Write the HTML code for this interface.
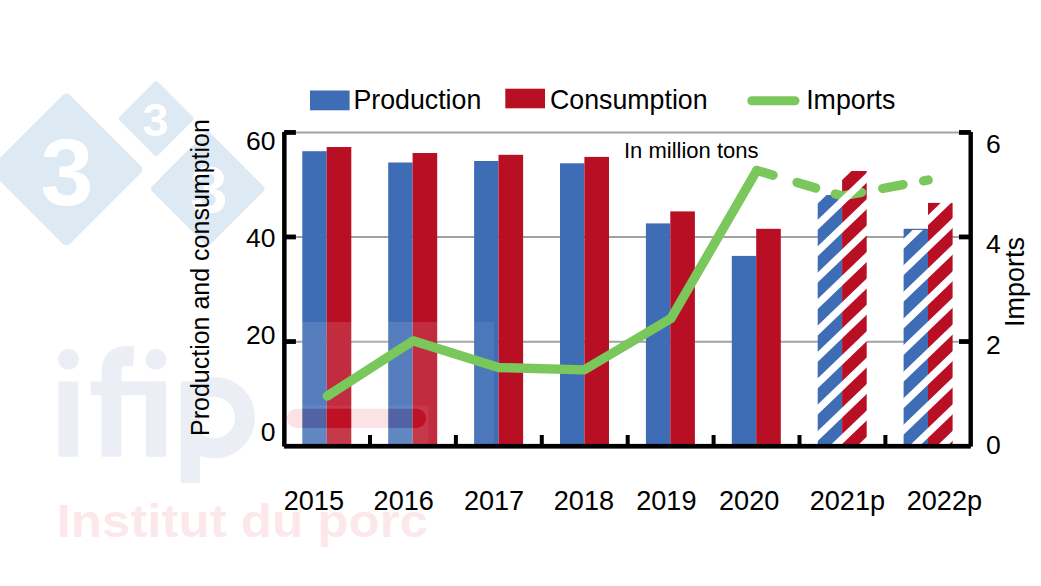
<!DOCTYPE html><html><head><meta charset="utf-8"><title>chart</title><style>html,body{margin:0;padding:0;background:#fff}body{width:1041px;height:586px;overflow:hidden}svg{display:block}text{font-family:"Liberation Sans",sans-serif;fill:#000}</style></head><body>
<svg width="1041" height="586" viewBox="0 0 1041 586">
<rect width="1041" height="586" fill="#fff"/>
<rect x="11.2" y="114.3" width="110.3" height="110.3" rx="5.0" fill="#dde9f3" transform="rotate(45 66.4 169.5)"/>
<rect x="129.0" y="91.4" width="54.4" height="54.4" rx="3.0" fill="#dde9f3" transform="rotate(45 156.2 118.6)"/>
<rect x="166.6" y="147.6" width="82.4" height="82.4" rx="4.0" fill="#dde9f3" transform="rotate(45 207.8 188.8)"/>
<text x="67" y="204.5" font-size="95" font-weight="bold" text-anchor="middle" style="fill:#fff">3</text>
<text x="155.5" y="136.4" font-size="47" font-weight="bold" text-anchor="middle" style="fill:#fff">3</text>
<text x="209" y="212.6" font-size="67" font-weight="bold" text-anchor="middle" style="fill:#fff">3</text>
<g fill="#ebeff5">
<rect x="58.4" y="381.5" width="20" height="75.3"/><circle cx="68.4" cy="359.3" r="10.5"/>
<rect x="146" y="381.5" width="20" height="75.3"/><circle cx="155.8" cy="359.3" r="10.5"/>
<rect x="90.7" y="381.5" width="75.3" height="13.8"/>
<rect x="180.7" y="381.5" width="19.4" height="101.4"/>
</g>
<path d="M111.5,456.8 L111.5,372 Q111.5,356 127,356 L133.7,356.5" fill="none" stroke="#ebeff5" stroke-width="20"/>
<clipPath id="pc"><rect x="190" y="370" width="80" height="100"/></clipPath>
<circle cx="214.3" cy="417.6" r="30.7" fill="none" stroke="#ebeff5" stroke-width="20" clip-path="url(#pc)"/>
<text x="56.5" y="536.8" font-size="46.5" font-weight="bold" textLength="371.5" lengthAdjust="spacingAndGlyphs" style="fill:#fce8ea">Institut du porc</text>
<line x1="286" y1="132.55" x2="969" y2="132.55" stroke="#a2a2a2" stroke-width="2"/>
<line x1="286" y1="237.05" x2="969" y2="237.05" stroke="#a2a2a2" stroke-width="2"/>
<line x1="286" y1="341.65" x2="969" y2="341.65" stroke="#a2a2a2" stroke-width="2"/>
<rect x="302.3" y="151.2" width="24.4" height="293.1" fill="#3f6db5"/>
<rect x="326.7" y="147.0" width="24.6" height="297.3" fill="#b90f24"/>
<rect x="388.2" y="162.5" width="24.4" height="281.8" fill="#3f6db5"/>
<rect x="412.6" y="153.0" width="24.6" height="291.3" fill="#b90f24"/>
<rect x="474.1" y="161.0" width="24.4" height="283.3" fill="#3f6db5"/>
<rect x="498.5" y="154.8" width="24.6" height="289.5" fill="#b90f24"/>
<rect x="560.0" y="163.3" width="24.4" height="281.0" fill="#3f6db5"/>
<rect x="584.4" y="156.9" width="24.6" height="287.4" fill="#b90f24"/>
<rect x="645.9" y="223.4" width="24.4" height="220.9" fill="#3f6db5"/>
<rect x="670.3" y="211.4" width="24.6" height="232.9" fill="#b90f24"/>
<rect x="731.8" y="255.9" width="24.4" height="188.4" fill="#3f6db5"/>
<rect x="756.2" y="228.8" width="24.6" height="215.5" fill="#b90f24"/>
<rect x="817.7" y="195.0" width="24.4" height="249.3" fill="#3f6db5"/>
<rect x="842.1" y="171.0" width="24.6" height="273.3" fill="#b90f24"/>
<rect x="903.6" y="229.2" width="24.4" height="215.1" fill="#3f6db5"/>
<rect x="928.0" y="202.9" width="24.6" height="241.4" fill="#b90f24"/>
<mask id="mk"><rect x="0" y="0" width="1041" height="586" fill="#fff"/><rect x="287" y="408.7" width="139" height="19.3" rx="9.6" fill="#000"/></mask>
<g mask="url(#mk)">
<rect x="300" y="322" width="137" height="124" fill="#fff" fill-opacity="0.12"/>
<rect x="437" y="322" width="57" height="124" fill="#fff" fill-opacity="0.07"/>
<rect x="282" y="405.5" width="146.5" height="41" fill="#fff" fill-opacity="0.07"/>
</g>
<rect x="287" y="408.7" width="139" height="19.3" rx="9.6" fill="#e11e2d" fill-opacity="0.13"/>
<polyline points="327.3,396.0 413.0,340.8 498.5,367.5 584.4,369.8 670.9,318.6 756.8,170.4" fill="none" stroke="#7ac75b" stroke-width="9.3" stroke-linecap="round" stroke-linejoin="round"/>
<line x1="756.8" y1="170.4" x2="842.3" y2="196.0" stroke="#7ac75b" stroke-width="9.3" stroke-linecap="round" stroke-dasharray="17 25 19.5 20.5 19 22"/>
<line x1="842.3" y1="196.0" x2="928.2" y2="180.0" stroke="#7ac75b" stroke-width="9.3" stroke-linecap="round" stroke-dasharray="19.5 21.6 20.7 20.9 19 22"/>
<clipPath id="c6"><rect x="816.7" y="194.0" width="25.4" height="251.3"/><rect x="841.1" y="170.0" width="26.6" height="275.3"/></clipPath>
<g clip-path="url(#c6)" fill="#fff">
<polygon points="816.2,62.9 869.0,12.2 869.0,22.2 816.2,72.9"/>
<polygon points="816.2,89.3 869.0,38.6 869.0,48.6 816.2,99.3"/>
<polygon points="816.2,115.7 869.0,65.0 869.0,75.0 816.2,125.7"/>
<polygon points="816.2,142.1 869.0,91.4 869.0,101.4 816.2,152.1"/>
<polygon points="816.2,168.5 869.0,117.8 869.0,127.8 816.2,178.5"/>
<polygon points="816.2,194.9 869.0,144.2 869.0,154.2 816.2,204.9"/>
<polygon points="816.2,221.3 869.0,170.6 869.0,180.6 816.2,231.3"/>
<polygon points="816.2,247.7 869.0,197.0 869.0,207.0 816.2,257.7"/>
<polygon points="816.2,274.1 869.0,223.4 869.0,233.4 816.2,284.1"/>
<polygon points="816.2,300.5 869.0,249.8 869.0,259.8 816.2,310.5"/>
<polygon points="816.2,326.9 869.0,276.2 869.0,286.2 816.2,336.9"/>
<polygon points="816.2,353.3 869.0,302.6 869.0,312.6 816.2,363.3"/>
<polygon points="816.2,379.7 869.0,329.0 869.0,339.0 816.2,389.7"/>
<polygon points="816.2,406.1 869.0,355.4 869.0,365.4 816.2,416.1"/>
<polygon points="816.2,432.5 869.0,381.8 869.0,391.8 816.2,442.5"/>
<polygon points="816.2,458.9 869.0,408.2 869.0,418.2 816.2,468.9"/>
<polygon points="816.2,485.3 869.0,434.6 869.0,444.6 816.2,495.3"/>
<polygon points="816.2,511.7 869.0,461.0 869.0,471.0 816.2,521.7"/>
<polygon points="816.2,538.1 869.0,487.4 869.0,497.4 816.2,548.1"/>
<polygon points="816.2,564.5 869.0,513.8 869.0,523.8 816.2,574.5"/>
<polygon points="816.2,590.9 869.0,540.2 869.0,550.2 816.2,600.9"/>
<polygon points="816.2,617.3 869.0,566.6 869.0,576.6 816.2,627.3"/>
</g>
<clipPath id="c7"><rect x="902.6" y="228.2" width="25.4" height="217.1"/><rect x="927.0" y="201.9" width="26.6" height="243.4"/></clipPath>
<g clip-path="url(#c7)" fill="#fff">
<polygon points="902.2,80.3 955.0,29.6 955.0,39.6 902.2,90.3"/>
<polygon points="902.2,106.9 955.0,56.2 955.0,66.2 902.2,116.9"/>
<polygon points="902.2,133.5 955.0,82.8 955.0,92.8 902.2,143.5"/>
<polygon points="902.2,160.1 955.0,109.4 955.0,119.4 902.2,170.1"/>
<polygon points="902.2,186.7 955.0,136.0 955.0,146.0 902.2,196.7"/>
<polygon points="902.2,213.3 955.0,162.6 955.0,172.6 902.2,223.3"/>
<polygon points="902.2,239.9 955.0,189.2 955.0,199.2 902.2,249.9"/>
<polygon points="902.2,266.5 955.0,215.8 955.0,225.8 902.2,276.5"/>
<polygon points="902.2,293.1 955.0,242.4 955.0,252.4 902.2,303.1"/>
<polygon points="902.2,319.7 955.0,269.0 955.0,279.0 902.2,329.7"/>
<polygon points="902.2,346.3 955.0,295.6 955.0,305.6 902.2,356.3"/>
<polygon points="902.2,372.9 955.0,322.2 955.0,332.2 902.2,382.9"/>
<polygon points="902.2,399.5 955.0,348.8 955.0,358.8 902.2,409.5"/>
<polygon points="902.2,426.1 955.0,375.4 955.0,385.4 902.2,436.1"/>
<polygon points="902.2,452.7 955.0,402.0 955.0,412.0 902.2,462.7"/>
<polygon points="902.2,479.3 955.0,428.6 955.0,438.6 902.2,489.3"/>
<polygon points="902.2,505.9 955.0,455.2 955.0,465.2 902.2,515.9"/>
<polygon points="902.2,532.5 955.0,481.8 955.0,491.8 902.2,542.5"/>
<polygon points="902.2,559.1 955.0,508.4 955.0,518.4 902.2,569.1"/>
<polygon points="902.2,585.7 955.0,535.0 955.0,545.0 902.2,595.7"/>
<polygon points="902.2,612.3 955.0,561.6 955.0,571.6 902.2,622.3"/>
<polygon points="902.2,638.9 955.0,588.2 955.0,598.2 902.2,648.9"/>
</g>
<rect x="904.2" y="228.8" width="24.1" height="1.1" fill="#355f9e"/>
<g fill="#000">
<rect x="282.1" y="131.9" width="4.5" height="314.7"/>
<rect x="968.5" y="131.9" width="4.4" height="314.7"/>
<rect x="284.1" y="443.9" width="686.7" height="4.7"/>
<rect x="284.1" y="130.05" width="11.8" height="4.8"/>
<rect x="959.0" y="130.05" width="11.9" height="4.8"/>
<rect x="284.1" y="234.55" width="11.8" height="4.8"/>
<rect x="959.0" y="234.55" width="11.9" height="4.8"/>
<rect x="284.1" y="339.15" width="11.8" height="4.8"/>
<rect x="959.0" y="339.15" width="11.9" height="4.8"/>
<rect x="368.0" y="435.0" width="4" height="9.5"/>
<rect x="453.9" y="435.0" width="4" height="9.5"/>
<rect x="539.8" y="435.0" width="4" height="9.5"/>
<rect x="625.7" y="435.0" width="4" height="9.5"/>
<rect x="711.6" y="435.0" width="4" height="9.5"/>
<rect x="797.5" y="435.0" width="4" height="9.5"/>
<rect x="883.4" y="435.0" width="4" height="9.5"/>
</g>
<text x="275.4" y="149.8" font-size="26.5" text-anchor="end">60</text>
<text x="275.4" y="247.4" font-size="26.5" text-anchor="end">40</text>
<text x="275.4" y="344.3" font-size="26.5" text-anchor="end">20</text>
<text x="275.4" y="441.2" font-size="26.5" text-anchor="end">0</text>
<text x="986.0" y="153.3" font-size="26.5">6</text>
<text x="986.0" y="253.0" font-size="26.5">4</text>
<text x="986.0" y="353.8" font-size="26.5">2</text>
<text x="986.0" y="453.5" font-size="26.5">0</text>
<text x="283.7" y="509.7" font-size="27.1">2015</text>
<text x="373.6" y="509.7" font-size="27.1">2016</text>
<text x="463.9" y="509.7" font-size="27.1">2017</text>
<text x="553.8" y="509.7" font-size="27.1">2018</text>
<text x="636.2" y="509.7" font-size="27.1">2019</text>
<text x="719.0" y="509.7" font-size="27.1">2020</text>
<text x="809.7" y="509.7" font-size="27.1">2021p</text>
<text x="906.7" y="509.7" font-size="27.1">2022p</text>
<rect x="310.0" y="90.5" width="39.6" height="19.8" fill="#3f6db5"/>
<rect x="505.3" y="88.7" width="39.7" height="19.6" fill="#b90f24"/>
<line x1="751.8" y1="100.8" x2="795" y2="100.8" stroke="#7ac75b" stroke-width="9" stroke-linecap="round"/>
<text x="353.4" y="108.6" font-size="26.75">Production</text>
<text x="550.0" y="108.6" font-size="26.75">Consumption</text>
<text x="806.2" y="108.6" font-size="26.75">Imports</text>
<text x="624" y="158.1" font-size="22">In million tons</text>
<text transform="translate(209,436) rotate(-90)" font-size="25">Production and consumption</text>
<text transform="translate(1024.3,326.9) rotate(-90)" font-size="27">Imports</text>
</svg></body></html>
